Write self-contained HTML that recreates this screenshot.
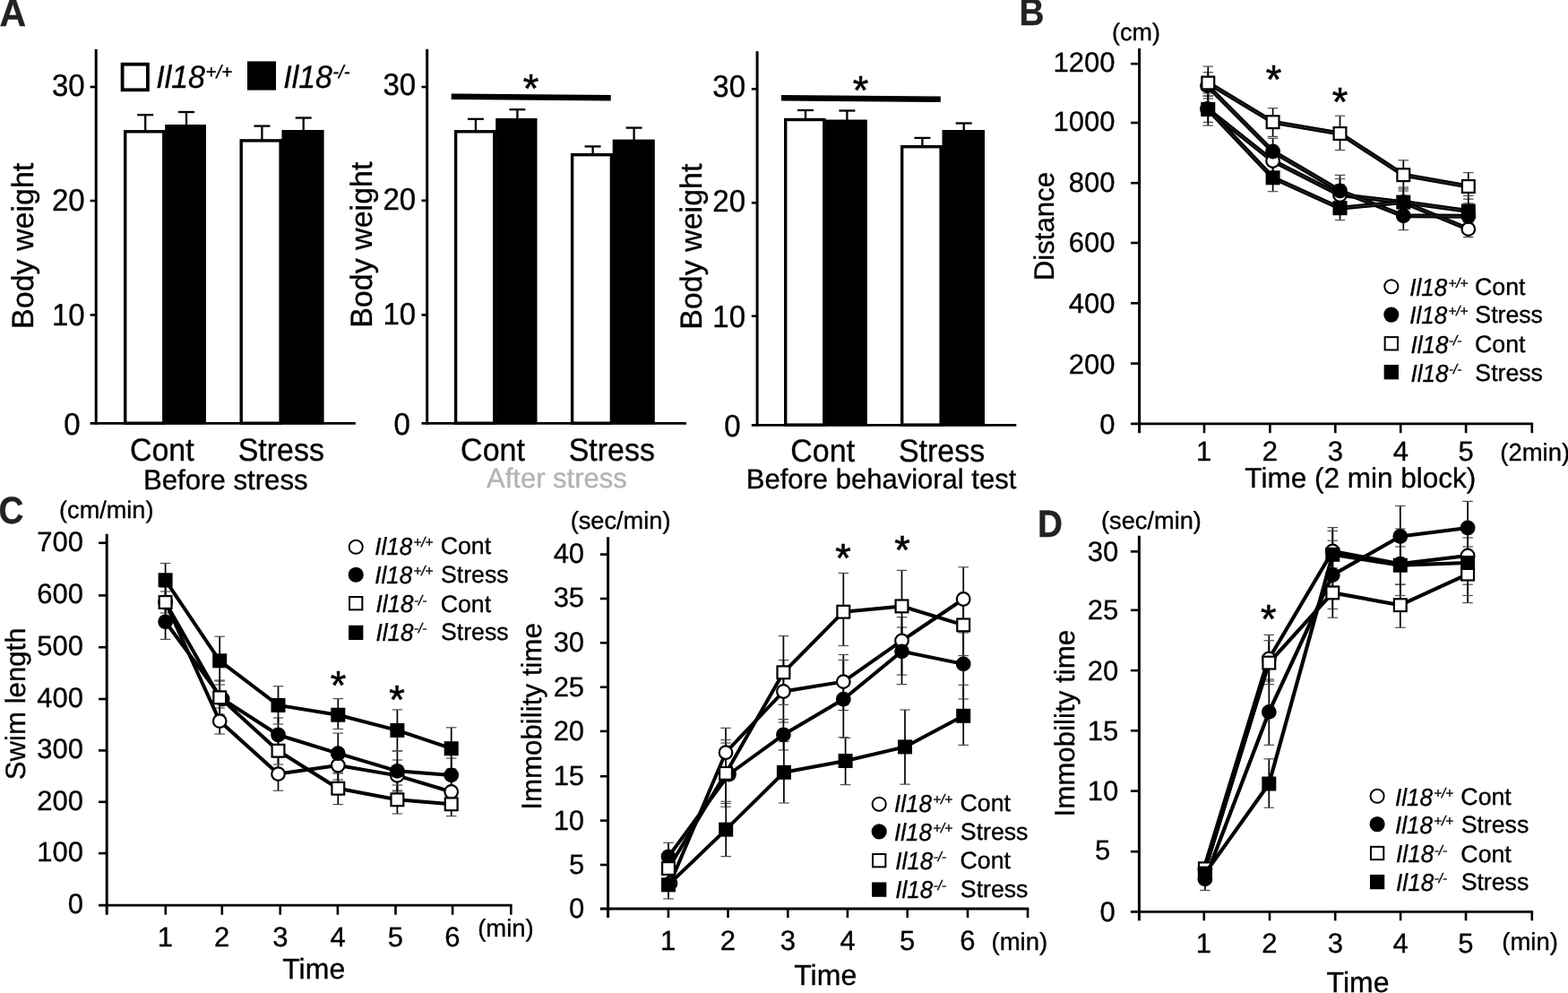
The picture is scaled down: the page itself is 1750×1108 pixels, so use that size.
<!DOCTYPE html>
<html lang="en">
<head>
<meta charset="utf-8">
<title>Il18 knockout mice: body weight and behavioral tests</title>
<style>
html,body{margin:0;padding:0;background:#fff;}
body{width:1750px;height:1108px;overflow:hidden;}
svg{display:block;font-family:'Liberation Sans', Arial, Helvetica, sans-serif;}
text{stroke:#000;stroke-width:0.35px;}

</style>
</head>
<body>
<svg width="1750" height="1108" viewBox="0 0 1750 1108" shape-rendering="geometricPrecision" text-rendering="geometricPrecision">
<rect width="1750" height="1108" fill="#fff"/>
<rect x="139.7" y="146.8" width="43.2" height="325.4" fill="#fff" stroke="#000" stroke-width="3.4"/>
<rect x="184.2" y="139" width="45.8" height="334.4" fill="#000"/>
<rect x="181.5" y="145.3" width="3" height="328.1" fill="#000"/>
<rect x="269.2" y="156.9" width="44" height="315.3" fill="#fff" stroke="#000" stroke-width="3.4"/>
<rect x="314.5" y="145" width="47.1" height="328.4" fill="#000"/>
<rect x="311.8" y="155.4" width="3" height="318" fill="#000"/>
<line x1="162.2" y1="128.2" x2="162.2" y2="146.3" stroke="#000" stroke-width="2.3"/>
<line x1="153.2" y1="128.2" x2="171.2" y2="128.2" stroke="#000" stroke-width="2.3"/>
<line x1="208" y1="125" x2="208" y2="140" stroke="#000" stroke-width="2.3"/>
<line x1="199" y1="125" x2="217" y2="125" stroke="#000" stroke-width="2.3"/>
<line x1="292.4" y1="140.6" x2="292.4" y2="156.4" stroke="#000" stroke-width="2.3"/>
<line x1="283.4" y1="140.6" x2="301.4" y2="140.6" stroke="#000" stroke-width="2.3"/>
<line x1="338.7" y1="131.5" x2="338.7" y2="146" stroke="#000" stroke-width="2.3"/>
<line x1="329.7" y1="131.5" x2="347.7" y2="131.5" stroke="#000" stroke-width="2.3"/>
<line x1="107.2" y1="55" x2="107.2" y2="473.8" stroke="#000" stroke-width="3"/>
<line x1="100.6" y1="472.4" x2="396.8" y2="472.4" stroke="#000" stroke-width="2.8"/>
<line x1="100.6" y1="97" x2="107.2" y2="97" stroke="#000" stroke-width="2.6"/>
<text transform="translate(57.99,107.3) scale(0.9550,1)" font-size="34.55">30</text>
<line x1="100.6" y1="224" x2="107.2" y2="224" stroke="#000" stroke-width="2.6"/>
<text transform="translate(57.99,235) scale(0.9550,1)" font-size="34.55">20</text>
<line x1="100.6" y1="351.4" x2="107.2" y2="351.4" stroke="#000" stroke-width="2.6"/>
<text transform="translate(57.99,362.7) scale(0.9550,1)" font-size="34.55">10</text>
<text transform="translate(71.34,485.4) scale(0.9550,1)" font-size="34.55">0</text>
<text transform="translate(36.5,366.92) rotate(-90)" font-size="34">Body weight</text>
<text transform="translate(144.9,514.4) scale(0.9550,1)" font-size="35.6">Cont</text>
<text transform="translate(265.64,514.4) scale(0.9550,1)" font-size="35.6">Stress</text>
<text x="159.9" y="545.6" font-size="31.2">Before stress</text>
<rect x="136.6" y="71.7" width="28.3" height="28.6" fill="#fff" stroke="#000" stroke-width="3.8"/>
<rect x="276" y="68.4" width="32" height="32.2" fill="#000"/>
<text transform="translate(174.28,97.5) scale(0.9550,1)" font-size="35.5" font-style="italic">Il18</text>
<text x="229.57" y="86.5" font-size="20.5" font-style="italic">+/+</text>
<text transform="translate(316.28,97.5) scale(0.9550,1)" font-size="35.5" font-style="italic">Il18</text>
<text x="371.28" y="86.5" font-size="20.5" font-style="italic">-/-</text>
<rect x="508.6" y="146.8" width="43.3" height="325.4" fill="#fff" stroke="#000" stroke-width="3.4"/>
<rect x="553.2" y="132" width="46.3" height="341.4" fill="#000"/>
<rect x="550.5" y="145.3" width="3" height="328.1" fill="#000"/>
<rect x="638.6" y="172.7" width="43.8" height="299.5" fill="#fff" stroke="#000" stroke-width="3.4"/>
<rect x="683.7" y="155.6" width="47.1" height="317.8" fill="#000"/>
<rect x="681" y="171.2" width="3" height="302.2" fill="#000"/>
<line x1="530.9" y1="132.8" x2="530.9" y2="146.3" stroke="#000" stroke-width="2.3"/>
<line x1="521.9" y1="132.8" x2="539.9" y2="132.8" stroke="#000" stroke-width="2.3"/>
<line x1="577.4" y1="122.2" x2="577.4" y2="133" stroke="#000" stroke-width="2.3"/>
<line x1="568.4" y1="122.2" x2="586.4" y2="122.2" stroke="#000" stroke-width="2.3"/>
<line x1="661.6" y1="163.4" x2="661.6" y2="172.2" stroke="#000" stroke-width="2.3"/>
<line x1="652.6" y1="163.4" x2="670.6" y2="163.4" stroke="#000" stroke-width="2.3"/>
<line x1="707.6" y1="142.6" x2="707.6" y2="156.6" stroke="#000" stroke-width="2.3"/>
<line x1="698.6" y1="142.6" x2="716.6" y2="142.6" stroke="#000" stroke-width="2.3"/>
<line x1="476.7" y1="54.8" x2="476.7" y2="473.8" stroke="#000" stroke-width="3"/>
<line x1="470.5" y1="472.4" x2="766" y2="472.4" stroke="#000" stroke-width="2.8"/>
<line x1="470.5" y1="97" x2="476.7" y2="97" stroke="#000" stroke-width="2.6"/>
<text transform="translate(427.49,106.1) scale(0.9550,1)" font-size="34.55">30</text>
<line x1="470.5" y1="223.8" x2="476.7" y2="223.8" stroke="#000" stroke-width="2.6"/>
<text transform="translate(427.49,234.1) scale(0.9550,1)" font-size="34.55">20</text>
<line x1="470.5" y1="351.4" x2="476.7" y2="351.4" stroke="#000" stroke-width="2.6"/>
<text transform="translate(427.49,362.2) scale(0.9550,1)" font-size="34.55">10</text>
<text transform="translate(439.54,485.4) scale(0.9550,1)" font-size="34.55">0</text>
<line x1="503.7" y1="107.7" x2="681.7" y2="109.3" stroke="#000" stroke-width="6.5"/>
<text x="583.73" y="114.2" font-size="45" style="stroke-width:0.6px">*</text>
<text transform="translate(414.6,365.82) rotate(-90)" font-size="34">Body weight</text>
<text transform="translate(514.1,514.4) scale(0.9550,1)" font-size="35.6">Cont</text>
<text transform="translate(634.64,514.4) scale(0.9550,1)" font-size="35.6">Stress</text>
<text x="543" y="544" font-size="31" style="fill:#b3b3b3;stroke:#b3b3b3">After stress</text>
<rect x="876.7" y="133.5" width="43.2" height="340.6" fill="#fff" stroke="#000" stroke-width="3.4"/>
<rect x="921.2" y="133.5" width="46.6" height="341.8" fill="#000"/>
<rect x="918.5" y="133.5" width="3" height="341.8" fill="#000"/>
<rect x="1006.7" y="163.7" width="43.5" height="310.4" fill="#fff" stroke="#000" stroke-width="3.4"/>
<rect x="1051.5" y="145" width="47.5" height="330.3" fill="#000"/>
<rect x="1048.8" y="162.2" width="3" height="313.1" fill="#000"/>
<line x1="899" y1="123" x2="899" y2="133" stroke="#000" stroke-width="2.3"/>
<line x1="890" y1="123" x2="908" y2="123" stroke="#000" stroke-width="2.3"/>
<line x1="945.4" y1="123.5" x2="945.4" y2="134.5" stroke="#000" stroke-width="2.3"/>
<line x1="936.4" y1="123.5" x2="954.4" y2="123.5" stroke="#000" stroke-width="2.3"/>
<line x1="1029.4" y1="153.9" x2="1029.4" y2="163.2" stroke="#000" stroke-width="2.3"/>
<line x1="1020.4" y1="153.9" x2="1038.4" y2="153.9" stroke="#000" stroke-width="2.3"/>
<line x1="1075.7" y1="137.5" x2="1075.7" y2="146" stroke="#000" stroke-width="2.3"/>
<line x1="1066.7" y1="137.5" x2="1084.7" y2="137.5" stroke="#000" stroke-width="2.3"/>
<line x1="845.1" y1="57.3" x2="845.1" y2="475.7" stroke="#000" stroke-width="3"/>
<line x1="838.8" y1="474.3" x2="1134.3" y2="474.3" stroke="#000" stroke-width="2.8"/>
<line x1="838.8" y1="99.3" x2="845.1" y2="99.3" stroke="#000" stroke-width="2.6"/>
<text transform="translate(795.29,107.5) scale(0.9550,1)" font-size="34.55">30</text>
<line x1="838.8" y1="226.3" x2="845.1" y2="226.3" stroke="#000" stroke-width="2.6"/>
<text transform="translate(795.29,236.1) scale(0.9550,1)" font-size="34.55">20</text>
<line x1="838.8" y1="352.7" x2="845.1" y2="352.7" stroke="#000" stroke-width="2.6"/>
<text transform="translate(795.29,365.3) scale(0.9550,1)" font-size="34.55">10</text>
<text transform="translate(808.34,487.3) scale(0.9550,1)" font-size="34.55">0</text>
<line x1="872" y1="109.2" x2="1049.8" y2="110.8" stroke="#000" stroke-width="6.5"/>
<text x="951.73" y="115.9" font-size="45" style="stroke-width:0.6px">*</text>
<text transform="translate(782.9,367.82) rotate(-90)" font-size="34">Body weight</text>
<text transform="translate(882.3,514.9) scale(0.9550,1)" font-size="35.6">Cont</text>
<text transform="translate(1002.94,514.9) scale(0.9550,1)" font-size="35.6">Stress</text>
<text x="832.72" y="545" font-size="31">Before behavioral test</text>
<text transform="translate(-0.52,29) scale(0.9650,1)" font-size="42.5" font-weight="bold" style="fill:#222;stroke:#222">A</text>
<text transform="translate(1137.48,28.4) scale(0.9100,1)" font-size="42.5" font-weight="bold" style="fill:#222;stroke:#222">B</text>
<text transform="translate(-1.55,583.5) scale(0.9100,1)" font-size="42.5" font-weight="bold" style="fill:#222;stroke:#222">C</text>
<text transform="translate(1157.98,598.5) scale(0.9100,1)" font-size="42.5" font-weight="bold" style="fill:#222;stroke:#222">D</text>
<line x1="1271.6" y1="54" x2="1271.6" y2="483.2" stroke="#000" stroke-width="3"/>
<line x1="1262" y1="472.8" x2="1711.1" y2="472.8" stroke="#000" stroke-width="2.8"/>
<line x1="1262" y1="71.2" x2="1271.6" y2="71.2" stroke="#000" stroke-width="2.6"/>
<text x="1175.46" y="79.7" font-size="31">1200</text>
<line x1="1262" y1="137" x2="1271.6" y2="137" stroke="#000" stroke-width="2.6"/>
<text x="1175.46" y="146.3" font-size="31">1000</text>
<line x1="1262" y1="204.2" x2="1271.6" y2="204.2" stroke="#000" stroke-width="2.6"/>
<text x="1192.7" y="213.9" font-size="31">800</text>
<line x1="1262" y1="271" x2="1271.6" y2="271" stroke="#000" stroke-width="2.6"/>
<text x="1192.7" y="281.1" font-size="31">600</text>
<line x1="1262" y1="338.3" x2="1271.6" y2="338.3" stroke="#000" stroke-width="2.6"/>
<text x="1192.7" y="348.8" font-size="31">400</text>
<line x1="1262" y1="405.6" x2="1271.6" y2="405.6" stroke="#000" stroke-width="2.6"/>
<text x="1192.7" y="416.5" font-size="31">200</text>
<text x="1227.18" y="483.9" font-size="31">0</text>
<line x1="1344" y1="472.8" x2="1344" y2="483.2" stroke="#000" stroke-width="2.6"/>
<line x1="1417.4" y1="472.8" x2="1417.4" y2="483.2" stroke="#000" stroke-width="2.6"/>
<line x1="1490.3" y1="472.8" x2="1490.3" y2="483.2" stroke="#000" stroke-width="2.6"/>
<line x1="1563.2" y1="472.8" x2="1563.2" y2="483.2" stroke="#000" stroke-width="2.6"/>
<line x1="1636.1" y1="472.8" x2="1636.1" y2="483.2" stroke="#000" stroke-width="2.6"/>
<line x1="1709.8" y1="472.8" x2="1709.8" y2="483.2" stroke="#000" stroke-width="2.6"/>
<text x="1335.01" y="513.8" font-size="31">1</text>
<text x="1408.72" y="513.8" font-size="31">2</text>
<text x="1481.77" y="513.8" font-size="31">3</text>
<text x="1554.67" y="513.8" font-size="31">4</text>
<text x="1627.42" y="513.8" font-size="31">5</text>
<text x="1241.09" y="45.3" font-size="26.9">(cm)</text>
<text x="1674.25" y="513.8" font-size="27.5">(2min)</text>
<text x="1389.37" y="544" font-size="31.5">Time (2 min block)</text>
<text transform="translate(1175.8,313.3) rotate(-90)" font-size="31.2">Distance</text>
<line x1="1348.3" y1="107.1" x2="1348.3" y2="136.4" stroke="#000" stroke-width="1.7"/>
<line x1="1342.55" y1="107.1" x2="1354.05" y2="107.1" stroke="#4d4d4d" stroke-width="1.2"/>
<line x1="1342.55" y1="136.4" x2="1354.05" y2="136.4" stroke="#4d4d4d" stroke-width="1.2"/>
<line x1="1420.6" y1="167" x2="1420.6" y2="192" stroke="#000" stroke-width="1.7"/>
<line x1="1414.85" y1="167" x2="1426.35" y2="167" stroke="#4d4d4d" stroke-width="1.2"/>
<line x1="1414.85" y1="192" x2="1426.35" y2="192" stroke="#4d4d4d" stroke-width="1.2"/>
<line x1="1495.5" y1="206" x2="1495.5" y2="234" stroke="#000" stroke-width="1.7"/>
<line x1="1489.75" y1="206" x2="1501.25" y2="206" stroke="#4d4d4d" stroke-width="1.2"/>
<line x1="1489.75" y1="234" x2="1501.25" y2="234" stroke="#4d4d4d" stroke-width="1.2"/>
<line x1="1566.3" y1="213" x2="1566.3" y2="239" stroke="#000" stroke-width="1.7"/>
<line x1="1560.55" y1="213" x2="1572.05" y2="213" stroke="#4d4d4d" stroke-width="1.2"/>
<line x1="1560.55" y1="239" x2="1572.05" y2="239" stroke="#4d4d4d" stroke-width="1.2"/>
<line x1="1638.8" y1="245" x2="1638.8" y2="264.6" stroke="#000" stroke-width="1.7"/>
<line x1="1633.05" y1="245" x2="1644.55" y2="245" stroke="#4d4d4d" stroke-width="1.2"/>
<line x1="1633.05" y1="264.6" x2="1644.55" y2="264.6" stroke="#4d4d4d" stroke-width="1.2"/>
<line x1="1348.3" y1="80.7" x2="1348.3" y2="110" stroke="#000" stroke-width="1.7"/>
<line x1="1342.55" y1="80.7" x2="1354.05" y2="80.7" stroke="#4d4d4d" stroke-width="1.2"/>
<line x1="1342.55" y1="110" x2="1354.05" y2="110" stroke="#4d4d4d" stroke-width="1.2"/>
<line x1="1420.6" y1="154.3" x2="1420.6" y2="184" stroke="#000" stroke-width="1.7"/>
<line x1="1414.85" y1="154.3" x2="1426.35" y2="154.3" stroke="#4d4d4d" stroke-width="1.2"/>
<line x1="1414.85" y1="184" x2="1426.35" y2="184" stroke="#4d4d4d" stroke-width="1.2"/>
<line x1="1495.5" y1="195.4" x2="1495.5" y2="230" stroke="#000" stroke-width="1.7"/>
<line x1="1489.75" y1="195.4" x2="1501.25" y2="195.4" stroke="#4d4d4d" stroke-width="1.2"/>
<line x1="1489.75" y1="230" x2="1501.25" y2="230" stroke="#4d4d4d" stroke-width="1.2"/>
<line x1="1566.3" y1="225" x2="1566.3" y2="256.7" stroke="#000" stroke-width="1.7"/>
<line x1="1560.55" y1="225" x2="1572.05" y2="225" stroke="#4d4d4d" stroke-width="1.2"/>
<line x1="1560.55" y1="256.7" x2="1572.05" y2="256.7" stroke="#4d4d4d" stroke-width="1.2"/>
<line x1="1638.8" y1="226.9" x2="1638.8" y2="251" stroke="#000" stroke-width="1.7"/>
<line x1="1633.05" y1="226.9" x2="1644.55" y2="226.9" stroke="#4d4d4d" stroke-width="1.2"/>
<line x1="1633.05" y1="251" x2="1644.55" y2="251" stroke="#4d4d4d" stroke-width="1.2"/>
<line x1="1348.3" y1="74.1" x2="1348.3" y2="107.1" stroke="#000" stroke-width="1.7"/>
<line x1="1342.55" y1="74.1" x2="1354.05" y2="74.1" stroke="#4d4d4d" stroke-width="1.2"/>
<line x1="1342.55" y1="107.1" x2="1354.05" y2="107.1" stroke="#4d4d4d" stroke-width="1.2"/>
<line x1="1420.6" y1="120.7" x2="1420.6" y2="152.4" stroke="#000" stroke-width="1.7"/>
<line x1="1414.85" y1="120.7" x2="1426.35" y2="120.7" stroke="#4d4d4d" stroke-width="1.2"/>
<line x1="1414.85" y1="152.4" x2="1426.35" y2="152.4" stroke="#4d4d4d" stroke-width="1.2"/>
<line x1="1495.5" y1="129.2" x2="1495.5" y2="167.5" stroke="#000" stroke-width="1.7"/>
<line x1="1489.75" y1="129.2" x2="1501.25" y2="129.2" stroke="#4d4d4d" stroke-width="1.2"/>
<line x1="1489.75" y1="167.5" x2="1501.25" y2="167.5" stroke="#4d4d4d" stroke-width="1.2"/>
<line x1="1566.3" y1="178.8" x2="1566.3" y2="210.9" stroke="#000" stroke-width="1.7"/>
<line x1="1560.55" y1="178.8" x2="1572.05" y2="178.8" stroke="#4d4d4d" stroke-width="1.2"/>
<line x1="1560.55" y1="210.9" x2="1572.05" y2="210.9" stroke="#4d4d4d" stroke-width="1.2"/>
<line x1="1638.8" y1="192.6" x2="1638.8" y2="222.2" stroke="#000" stroke-width="1.7"/>
<line x1="1633.05" y1="192.6" x2="1644.55" y2="192.6" stroke="#4d4d4d" stroke-width="1.2"/>
<line x1="1633.05" y1="222.2" x2="1644.55" y2="222.2" stroke="#4d4d4d" stroke-width="1.2"/>
<line x1="1348.3" y1="104" x2="1348.3" y2="140.1" stroke="#000" stroke-width="1.7"/>
<line x1="1342.55" y1="104" x2="1354.05" y2="104" stroke="#4d4d4d" stroke-width="1.2"/>
<line x1="1342.55" y1="140.1" x2="1354.05" y2="140.1" stroke="#4d4d4d" stroke-width="1.2"/>
<line x1="1420.6" y1="184" x2="1420.6" y2="213.7" stroke="#000" stroke-width="1.7"/>
<line x1="1414.85" y1="184" x2="1426.35" y2="184" stroke="#4d4d4d" stroke-width="1.2"/>
<line x1="1414.85" y1="213.7" x2="1426.35" y2="213.7" stroke="#4d4d4d" stroke-width="1.2"/>
<line x1="1495.5" y1="199.5" x2="1495.5" y2="245.7" stroke="#000" stroke-width="1.7"/>
<line x1="1489.75" y1="199.5" x2="1501.25" y2="199.5" stroke="#4d4d4d" stroke-width="1.2"/>
<line x1="1489.75" y1="245.7" x2="1501.25" y2="245.7" stroke="#4d4d4d" stroke-width="1.2"/>
<line x1="1566.3" y1="209" x2="1566.3" y2="239" stroke="#000" stroke-width="1.7"/>
<line x1="1560.55" y1="209" x2="1572.05" y2="209" stroke="#4d4d4d" stroke-width="1.2"/>
<line x1="1560.55" y1="239" x2="1572.05" y2="239" stroke="#4d4d4d" stroke-width="1.2"/>
<line x1="1638.8" y1="218.4" x2="1638.8" y2="249" stroke="#000" stroke-width="1.7"/>
<line x1="1633.05" y1="218.4" x2="1644.55" y2="218.4" stroke="#4d4d4d" stroke-width="1.2"/>
<line x1="1633.05" y1="249" x2="1644.55" y2="249" stroke="#4d4d4d" stroke-width="1.2"/>
<polyline points="1347.4,121.5 1420.6,179.5 1495.5,217.5 1566.3,225.7 1638.8,255.6" fill="none" stroke="#000" stroke-width="5" stroke-linejoin="round"/>
<polyline points="1347.4,121.5 1420.6,179.5 1495.5,217.5 1566.3,225.7 1638.8,255.6" fill="none" stroke="#4a4a4a" stroke-width="0.7" stroke-linejoin="round"/>
<circle cx="1347.4" cy="121.5" r="7.3" fill="#fff" stroke="#000" stroke-width="2.2"/>
<circle cx="1420.6" cy="179.5" r="7.3" fill="#fff" stroke="#000" stroke-width="2.2"/>
<circle cx="1495.5" cy="217.5" r="7.3" fill="#fff" stroke="#000" stroke-width="2.2"/>
<circle cx="1566.3" cy="225.7" r="7.3" fill="#fff" stroke="#000" stroke-width="2.2"/>
<circle cx="1638.8" cy="255.6" r="7.3" fill="#fff" stroke="#000" stroke-width="2.2"/>
<polyline points="1347.4,95.6 1420.6,169 1495.5,213 1566.3,240.8 1638.8,241.3" fill="none" stroke="#000" stroke-width="5" stroke-linejoin="round"/>
<polyline points="1347.4,95.6 1420.6,169 1495.5,213 1566.3,240.8 1638.8,241.3" fill="none" stroke="#4a4a4a" stroke-width="0.7" stroke-linejoin="round"/>
<circle cx="1347.4" cy="95.6" r="8.4" fill="#000"/>
<circle cx="1420.6" cy="169" r="8.4" fill="#000"/>
<circle cx="1495.5" cy="213" r="8.4" fill="#000"/>
<circle cx="1566.3" cy="240.8" r="8.4" fill="#000"/>
<circle cx="1638.8" cy="241.3" r="8.4" fill="#000"/>
<polyline points="1348.3,92.5 1420.6,136.2 1495.5,149 1566.3,195.2 1638.8,208" fill="none" stroke="#000" stroke-width="5" stroke-linejoin="round"/>
<polyline points="1348.3,92.5 1420.6,136.2 1495.5,149 1566.3,195.2 1638.8,208" fill="none" stroke="#4a4a4a" stroke-width="0.7" stroke-linejoin="round"/>
<rect x="1341.4" y="85.6" width="13.8" height="13.8" fill="#fff" stroke="#000" stroke-width="2.2"/>
<rect x="1413.7" y="129.3" width="13.8" height="13.8" fill="#fff" stroke="#000" stroke-width="2.2"/>
<rect x="1488.6" y="142.1" width="13.8" height="13.8" fill="#fff" stroke="#000" stroke-width="2.2"/>
<rect x="1559.4" y="188.3" width="13.8" height="13.8" fill="#fff" stroke="#000" stroke-width="2.2"/>
<rect x="1631.9" y="201.1" width="13.8" height="13.8" fill="#fff" stroke="#000" stroke-width="2.2"/>
<polyline points="1348.3,122 1420.6,198.3 1495.5,232.2 1566.3,225.6 1638.8,235.5" fill="none" stroke="#000" stroke-width="5" stroke-linejoin="round"/>
<polyline points="1348.3,122 1420.6,198.3 1495.5,232.2 1566.3,225.6 1638.8,235.5" fill="none" stroke="#4a4a4a" stroke-width="0.7" stroke-linejoin="round"/>
<rect x="1340.3" y="114" width="16" height="16" fill="#000"/>
<rect x="1412.6" y="190.3" width="16" height="16" fill="#000"/>
<rect x="1487.5" y="224.2" width="16" height="16" fill="#000"/>
<rect x="1558.3" y="217.6" width="16" height="16" fill="#000"/>
<rect x="1630.8" y="227.5" width="16" height="16" fill="#000"/>
<text x="1412.72" y="104.1" font-size="45" style="stroke-width:0.6px">*</text>
<text x="1486.72" y="128.6" font-size="45" style="stroke-width:0.6px">*</text>
<circle cx="1552.8" cy="319.7" r="7.55" fill="#fff" stroke="#000" stroke-width="2"/>
<text transform="translate(1573.22,329.8) scale(0.9550,1)" font-size="27.3" font-style="italic">Il18</text>
<text x="1616.44" y="321" font-size="15.2" font-style="italic">+/+</text>
<text x="1646.07" y="329" font-size="26.7">Cont</text>
<circle cx="1552.8" cy="351.1" r="8.55" fill="#000"/>
<text transform="translate(1573.22,361.2) scale(0.9550,1)" font-size="27.3" font-style="italic">Il18</text>
<text x="1616.44" y="352.4" font-size="15.2" font-style="italic">+/+</text>
<text x="1646.33" y="360.4" font-size="26.7">Stress</text>
<rect x="1545.65" y="376.15" width="14.3" height="14.3" fill="#fff" stroke="#000" stroke-width="2"/>
<text transform="translate(1574.42,393.8) scale(0.9550,1)" font-size="27.3" font-style="italic">Il18</text>
<text x="1616.99" y="385" font-size="15.2" font-style="italic">-/-</text>
<text x="1646.07" y="393" font-size="26.7">Cont</text>
<rect x="1544.65" y="407.05" width="16.3" height="16.3" fill="#000"/>
<text transform="translate(1574.42,425.8) scale(0.9550,1)" font-size="27.3" font-style="italic">Il18</text>
<text x="1616.99" y="417" font-size="15.2" font-style="italic">-/-</text>
<text x="1646.33" y="425" font-size="26.7">Stress</text>
<line x1="119.2" y1="595.8" x2="119.2" y2="1020.7" stroke="#000" stroke-width="3"/>
<line x1="110" y1="1010.2" x2="571.6" y2="1010.2" stroke="#000" stroke-width="2.8"/>
<line x1="110" y1="605.8" x2="119.2" y2="605.8" stroke="#000" stroke-width="2.6"/>
<text x="41.2" y="614.8" font-size="31">700</text>
<line x1="110" y1="664.4" x2="119.2" y2="664.4" stroke="#000" stroke-width="2.6"/>
<text x="41.2" y="673.4" font-size="31">600</text>
<line x1="110" y1="722.2" x2="119.2" y2="722.2" stroke="#000" stroke-width="2.6"/>
<text x="41.2" y="731.2" font-size="31">500</text>
<line x1="110" y1="780" x2="119.2" y2="780" stroke="#000" stroke-width="2.6"/>
<text x="41.2" y="789" font-size="31">400</text>
<line x1="110" y1="837.4" x2="119.2" y2="837.4" stroke="#000" stroke-width="2.6"/>
<text x="41.2" y="846.4" font-size="31">300</text>
<line x1="110" y1="894.8" x2="119.2" y2="894.8" stroke="#000" stroke-width="2.6"/>
<text x="41.2" y="903.8" font-size="31">200</text>
<line x1="110" y1="952.1" x2="119.2" y2="952.1" stroke="#000" stroke-width="2.6"/>
<text x="41.2" y="961.1" font-size="31">100</text>
<text x="75.68" y="1019.2" font-size="31">0</text>
<line x1="184.8" y1="1010.2" x2="184.8" y2="1020.7" stroke="#000" stroke-width="2.6"/>
<line x1="247.8" y1="1010.2" x2="247.8" y2="1020.7" stroke="#000" stroke-width="2.6"/>
<line x1="312.7" y1="1010.2" x2="312.7" y2="1020.7" stroke="#000" stroke-width="2.6"/>
<line x1="376.9" y1="1010.2" x2="376.9" y2="1020.7" stroke="#000" stroke-width="2.6"/>
<line x1="441.5" y1="1010.2" x2="441.5" y2="1020.7" stroke="#000" stroke-width="2.6"/>
<line x1="505.1" y1="1010.2" x2="505.1" y2="1020.7" stroke="#000" stroke-width="2.6"/>
<line x1="570.3" y1="1010.2" x2="570.3" y2="1020.7" stroke="#000" stroke-width="2.6"/>
<text x="175.81" y="1056" font-size="31">1</text>
<text x="239.12" y="1056" font-size="31">2</text>
<text x="304.18" y="1056" font-size="31">3</text>
<text x="368.38" y="1056" font-size="31">4</text>
<text x="432.82" y="1056" font-size="31">5</text>
<text x="496.27" y="1056" font-size="31">6</text>
<text x="66.07" y="577.7" font-size="27.1">(cm/min)</text>
<text x="533.15" y="1045.2" font-size="27.5">(min)</text>
<text x="315.26" y="1091.6" font-size="32">Time</text>
<text transform="translate(27.9,870.25) rotate(-90)" font-size="31.2">Swim length</text>
<line x1="184.6" y1="655" x2="184.6" y2="689" stroke="#000" stroke-width="1.7"/>
<line x1="178.85" y1="655" x2="190.35" y2="655" stroke="#4d4d4d" stroke-width="1.2"/>
<line x1="178.85" y1="689" x2="190.35" y2="689" stroke="#4d4d4d" stroke-width="1.2"/>
<line x1="245.2" y1="790" x2="245.2" y2="819" stroke="#000" stroke-width="1.7"/>
<line x1="239.45" y1="790" x2="250.95" y2="790" stroke="#4d4d4d" stroke-width="1.2"/>
<line x1="239.45" y1="819" x2="250.95" y2="819" stroke="#4d4d4d" stroke-width="1.2"/>
<line x1="310.5" y1="845" x2="310.5" y2="882.2" stroke="#000" stroke-width="1.7"/>
<line x1="304.75" y1="845" x2="316.25" y2="845" stroke="#4d4d4d" stroke-width="1.2"/>
<line x1="304.75" y1="882.2" x2="316.25" y2="882.2" stroke="#4d4d4d" stroke-width="1.2"/>
<line x1="377.3" y1="838" x2="377.3" y2="870" stroke="#000" stroke-width="1.7"/>
<line x1="371.55" y1="838" x2="383.05" y2="838" stroke="#4d4d4d" stroke-width="1.2"/>
<line x1="371.55" y1="870" x2="383.05" y2="870" stroke="#4d4d4d" stroke-width="1.2"/>
<line x1="443.4" y1="848" x2="443.4" y2="883" stroke="#000" stroke-width="1.7"/>
<line x1="437.65" y1="848" x2="449.15" y2="848" stroke="#4d4d4d" stroke-width="1.2"/>
<line x1="437.65" y1="883" x2="449.15" y2="883" stroke="#4d4d4d" stroke-width="1.2"/>
<line x1="503.7" y1="868" x2="503.7" y2="899" stroke="#000" stroke-width="1.7"/>
<line x1="497.95" y1="868" x2="509.45" y2="868" stroke="#4d4d4d" stroke-width="1.2"/>
<line x1="497.95" y1="899" x2="509.45" y2="899" stroke="#4d4d4d" stroke-width="1.2"/>
<line x1="184.6" y1="674" x2="184.6" y2="713.4" stroke="#000" stroke-width="1.7"/>
<line x1="178.85" y1="674" x2="190.35" y2="674" stroke="#4d4d4d" stroke-width="1.2"/>
<line x1="178.85" y1="713.4" x2="190.35" y2="713.4" stroke="#4d4d4d" stroke-width="1.2"/>
<line x1="245.2" y1="760" x2="245.2" y2="800" stroke="#000" stroke-width="1.7"/>
<line x1="239.45" y1="760" x2="250.95" y2="760" stroke="#4d4d4d" stroke-width="1.2"/>
<line x1="239.45" y1="800" x2="250.95" y2="800" stroke="#4d4d4d" stroke-width="1.2"/>
<line x1="310.5" y1="801" x2="310.5" y2="839" stroke="#000" stroke-width="1.7"/>
<line x1="304.75" y1="801" x2="316.25" y2="801" stroke="#4d4d4d" stroke-width="1.2"/>
<line x1="304.75" y1="839" x2="316.25" y2="839" stroke="#4d4d4d" stroke-width="1.2"/>
<line x1="377.3" y1="818.1" x2="377.3" y2="863" stroke="#000" stroke-width="1.7"/>
<line x1="371.55" y1="818.1" x2="383.05" y2="818.1" stroke="#4d4d4d" stroke-width="1.2"/>
<line x1="371.55" y1="863" x2="383.05" y2="863" stroke="#4d4d4d" stroke-width="1.2"/>
<line x1="443.4" y1="838" x2="443.4" y2="882" stroke="#000" stroke-width="1.7"/>
<line x1="437.65" y1="838" x2="449.15" y2="838" stroke="#4d4d4d" stroke-width="1.2"/>
<line x1="437.65" y1="882" x2="449.15" y2="882" stroke="#4d4d4d" stroke-width="1.2"/>
<line x1="503.7" y1="846" x2="503.7" y2="884" stroke="#000" stroke-width="1.7"/>
<line x1="497.95" y1="846" x2="509.45" y2="846" stroke="#4d4d4d" stroke-width="1.2"/>
<line x1="497.95" y1="884" x2="509.45" y2="884" stroke="#4d4d4d" stroke-width="1.2"/>
<line x1="184.6" y1="660" x2="184.6" y2="684" stroke="#000" stroke-width="1.7"/>
<line x1="178.85" y1="660" x2="190.35" y2="660" stroke="#4d4d4d" stroke-width="1.2"/>
<line x1="178.85" y1="684" x2="190.35" y2="684" stroke="#4d4d4d" stroke-width="1.2"/>
<line x1="245.2" y1="759" x2="245.2" y2="797" stroke="#000" stroke-width="1.7"/>
<line x1="239.45" y1="759" x2="250.95" y2="759" stroke="#4d4d4d" stroke-width="1.2"/>
<line x1="239.45" y1="797" x2="250.95" y2="797" stroke="#4d4d4d" stroke-width="1.2"/>
<line x1="310.5" y1="822" x2="310.5" y2="853" stroke="#000" stroke-width="1.7"/>
<line x1="304.75" y1="822" x2="316.25" y2="822" stroke="#4d4d4d" stroke-width="1.2"/>
<line x1="304.75" y1="853" x2="316.25" y2="853" stroke="#4d4d4d" stroke-width="1.2"/>
<line x1="377.3" y1="862" x2="377.3" y2="897.6" stroke="#000" stroke-width="1.7"/>
<line x1="371.55" y1="862" x2="383.05" y2="862" stroke="#4d4d4d" stroke-width="1.2"/>
<line x1="371.55" y1="897.6" x2="383.05" y2="897.6" stroke="#4d4d4d" stroke-width="1.2"/>
<line x1="443.4" y1="876" x2="443.4" y2="908" stroke="#000" stroke-width="1.7"/>
<line x1="437.65" y1="876" x2="449.15" y2="876" stroke="#4d4d4d" stroke-width="1.2"/>
<line x1="437.65" y1="908" x2="449.15" y2="908" stroke="#4d4d4d" stroke-width="1.2"/>
<line x1="503.7" y1="884" x2="503.7" y2="910.6" stroke="#000" stroke-width="1.7"/>
<line x1="497.95" y1="884" x2="509.45" y2="884" stroke="#4d4d4d" stroke-width="1.2"/>
<line x1="497.95" y1="910.6" x2="509.45" y2="910.6" stroke="#4d4d4d" stroke-width="1.2"/>
<line x1="184.6" y1="628.5" x2="184.6" y2="666" stroke="#000" stroke-width="1.7"/>
<line x1="178.85" y1="628.5" x2="190.35" y2="628.5" stroke="#4d4d4d" stroke-width="1.2"/>
<line x1="178.85" y1="666" x2="190.35" y2="666" stroke="#4d4d4d" stroke-width="1.2"/>
<line x1="245.2" y1="710.2" x2="245.2" y2="764" stroke="#000" stroke-width="1.7"/>
<line x1="239.45" y1="710.2" x2="250.95" y2="710.2" stroke="#4d4d4d" stroke-width="1.2"/>
<line x1="239.45" y1="764" x2="250.95" y2="764" stroke="#4d4d4d" stroke-width="1.2"/>
<line x1="310.5" y1="765.7" x2="310.5" y2="808" stroke="#000" stroke-width="1.7"/>
<line x1="304.75" y1="765.7" x2="316.25" y2="765.7" stroke="#4d4d4d" stroke-width="1.2"/>
<line x1="304.75" y1="808" x2="316.25" y2="808" stroke="#4d4d4d" stroke-width="1.2"/>
<line x1="377.3" y1="779.6" x2="377.3" y2="813.5" stroke="#000" stroke-width="1.7"/>
<line x1="371.55" y1="779.6" x2="383.05" y2="779.6" stroke="#4d4d4d" stroke-width="1.2"/>
<line x1="371.55" y1="813.5" x2="383.05" y2="813.5" stroke="#4d4d4d" stroke-width="1.2"/>
<line x1="443.4" y1="791.9" x2="443.4" y2="838" stroke="#000" stroke-width="1.7"/>
<line x1="437.65" y1="791.9" x2="449.15" y2="791.9" stroke="#4d4d4d" stroke-width="1.2"/>
<line x1="437.65" y1="838" x2="449.15" y2="838" stroke="#4d4d4d" stroke-width="1.2"/>
<line x1="503.7" y1="811.8" x2="503.7" y2="858" stroke="#000" stroke-width="1.7"/>
<line x1="497.95" y1="811.8" x2="509.45" y2="811.8" stroke="#4d4d4d" stroke-width="1.2"/>
<line x1="497.95" y1="858" x2="509.45" y2="858" stroke="#4d4d4d" stroke-width="1.2"/>
<polyline points="184.6,672 245.2,804.6 310.5,863.6 377.3,854 443.4,865.4 503.7,883.5" fill="none" stroke="#000" stroke-width="4" stroke-linejoin="round"/>
<circle cx="184.6" cy="672" r="7.3" fill="#fff" stroke="#000" stroke-width="2.2"/>
<circle cx="245.2" cy="804.6" r="7.3" fill="#fff" stroke="#000" stroke-width="2.2"/>
<circle cx="310.5" cy="863.6" r="7.3" fill="#fff" stroke="#000" stroke-width="2.2"/>
<circle cx="377.3" cy="854" r="7.3" fill="#fff" stroke="#000" stroke-width="2.2"/>
<circle cx="443.4" cy="865.4" r="7.3" fill="#fff" stroke="#000" stroke-width="2.2"/>
<circle cx="503.7" cy="883.5" r="7.3" fill="#fff" stroke="#000" stroke-width="2.2"/>
<polyline points="184.6,693.8 248.2,780 310.5,820 377.3,840.7 443.4,860.3 503.7,864.9" fill="none" stroke="#000" stroke-width="4" stroke-linejoin="round"/>
<circle cx="184.6" cy="693.8" r="8.4" fill="#000"/>
<circle cx="248.2" cy="780" r="8.4" fill="#000"/>
<circle cx="310.5" cy="820" r="8.4" fill="#000"/>
<circle cx="377.3" cy="840.7" r="8.4" fill="#000"/>
<circle cx="443.4" cy="860.3" r="8.4" fill="#000"/>
<circle cx="503.7" cy="864.9" r="8.4" fill="#000"/>
<polyline points="184.6,672 245.2,778.3 310.5,837.7 377.3,879.7 443.4,892.3 503.7,897.3" fill="none" stroke="#000" stroke-width="4" stroke-linejoin="round"/>
<rect x="177.7" y="665.1" width="13.8" height="13.8" fill="#fff" stroke="#000" stroke-width="2.2"/>
<rect x="238.3" y="771.4" width="13.8" height="13.8" fill="#fff" stroke="#000" stroke-width="2.2"/>
<rect x="303.6" y="830.8" width="13.8" height="13.8" fill="#fff" stroke="#000" stroke-width="2.2"/>
<rect x="370.4" y="872.8" width="13.8" height="13.8" fill="#fff" stroke="#000" stroke-width="2.2"/>
<rect x="436.5" y="885.4" width="13.8" height="13.8" fill="#fff" stroke="#000" stroke-width="2.2"/>
<rect x="496.8" y="890.4" width="13.8" height="13.8" fill="#fff" stroke="#000" stroke-width="2.2"/>
<polyline points="184.6,647.3 245.2,737.3 310.5,786.9 377.3,797.7 443.4,814.9 503.7,835.2" fill="none" stroke="#000" stroke-width="4" stroke-linejoin="round"/>
<rect x="176.6" y="639.3" width="16" height="16" fill="#000"/>
<rect x="237.2" y="729.3" width="16" height="16" fill="#000"/>
<rect x="302.5" y="778.9" width="16" height="16" fill="#000"/>
<rect x="369.3" y="789.7" width="16" height="16" fill="#000"/>
<rect x="435.4" y="806.9" width="16" height="16" fill="#000"/>
<rect x="495.7" y="827.2" width="16" height="16" fill="#000"/>
<text x="368.73" y="779.8" font-size="45" style="stroke-width:0.6px">*</text>
<text x="434.23" y="795.8" font-size="45" style="stroke-width:0.6px">*</text>
<circle cx="397.2" cy="610.3" r="7.55" fill="#fff" stroke="#000" stroke-width="2"/>
<text transform="translate(418.22,619.2) scale(0.9550,1)" font-size="27.3" font-style="italic">Il18</text>
<text x="461.44" y="610.4" font-size="15.2" font-style="italic">+/+</text>
<text x="491.76" y="618.4" font-size="26.7">Cont</text>
<circle cx="397.2" cy="641.2" r="8.55" fill="#000"/>
<text transform="translate(418.22,650.8) scale(0.9550,1)" font-size="27.3" font-style="italic">Il18</text>
<text x="461.44" y="642" font-size="15.2" font-style="italic">+/+</text>
<text x="492.03" y="650" font-size="26.7">Stress</text>
<rect x="390.05" y="666.05" width="14.3" height="14.3" fill="#fff" stroke="#000" stroke-width="2"/>
<text transform="translate(419.42,683.3) scale(0.9550,1)" font-size="27.3" font-style="italic">Il18</text>
<text x="461.99" y="674.5" font-size="15.2" font-style="italic">-/-</text>
<text x="491.76" y="682.5" font-size="26.7">Cont</text>
<rect x="389.05" y="697.75" width="16.3" height="16.3" fill="#000"/>
<text transform="translate(419.42,715) scale(0.9550,1)" font-size="27.3" font-style="italic">Il18</text>
<text x="461.99" y="706.2" font-size="15.2" font-style="italic">-/-</text>
<text x="492.03" y="714.2" font-size="26.7">Stress</text>
<line x1="678.6" y1="599.3" x2="678.6" y2="1024" stroke="#000" stroke-width="3"/>
<line x1="669.8" y1="1014" x2="1148.3" y2="1014" stroke="#000" stroke-width="2.8"/>
<line x1="669.8" y1="618.6" x2="678.6" y2="618.6" stroke="#000" stroke-width="2.6"/>
<text x="617.64" y="627.5" font-size="31">40</text>
<line x1="669.8" y1="668" x2="678.6" y2="668" stroke="#000" stroke-width="2.6"/>
<text x="617.64" y="676.7" font-size="31">35</text>
<line x1="669.8" y1="717.3" x2="678.6" y2="717.3" stroke="#000" stroke-width="2.6"/>
<text x="617.64" y="727.2" font-size="31">30</text>
<line x1="669.8" y1="766.7" x2="678.6" y2="766.7" stroke="#000" stroke-width="2.6"/>
<text x="617.64" y="776.6" font-size="31">25</text>
<line x1="669.8" y1="815.9" x2="678.6" y2="815.9" stroke="#000" stroke-width="2.6"/>
<text x="617.64" y="825.8" font-size="31">20</text>
<line x1="669.8" y1="866.2" x2="678.6" y2="866.2" stroke="#000" stroke-width="2.6"/>
<text x="617.64" y="876.1" font-size="31">15</text>
<line x1="669.8" y1="915.6" x2="678.6" y2="915.6" stroke="#000" stroke-width="2.6"/>
<text x="617.64" y="925.5" font-size="31">10</text>
<line x1="669.8" y1="965" x2="678.6" y2="965" stroke="#000" stroke-width="2.6"/>
<text x="634.88" y="974.9" font-size="31">5</text>
<text x="634.88" y="1023.9" font-size="31">0</text>
<line x1="745.9" y1="1014" x2="745.9" y2="1024" stroke="#000" stroke-width="2.6"/>
<line x1="812.5" y1="1014" x2="812.5" y2="1024" stroke="#000" stroke-width="2.6"/>
<line x1="879.3" y1="1014" x2="879.3" y2="1024" stroke="#000" stroke-width="2.6"/>
<line x1="945.9" y1="1014" x2="945.9" y2="1024" stroke="#000" stroke-width="2.6"/>
<line x1="1012.7" y1="1014" x2="1012.7" y2="1024" stroke="#000" stroke-width="2.6"/>
<line x1="1080" y1="1014" x2="1080" y2="1024" stroke="#000" stroke-width="2.6"/>
<line x1="1147" y1="1014" x2="1147" y2="1024" stroke="#000" stroke-width="2.6"/>
<text x="736.91" y="1059.9" font-size="31">1</text>
<text x="803.82" y="1059.9" font-size="31">2</text>
<text x="870.77" y="1059.9" font-size="31">3</text>
<text x="937.38" y="1059.9" font-size="31">4</text>
<text x="1004.02" y="1059.9" font-size="31">5</text>
<text x="1071.16" y="1059.9" font-size="31">6</text>
<text x="636.67" y="590" font-size="27.2">(sec/min)</text>
<text x="1106.55" y="1059.6" font-size="27.5">(min)</text>
<text x="886.26" y="1098.5" font-size="32">Time</text>
<text transform="translate(603.6,903.82) rotate(-90)" font-size="31.3">Immobility time</text>
<line x1="746" y1="950" x2="746" y2="985" stroke="#000" stroke-width="1.7"/>
<line x1="740.25" y1="950" x2="751.75" y2="950" stroke="#4d4d4d" stroke-width="1.2"/>
<line x1="740.25" y1="985" x2="751.75" y2="985" stroke="#4d4d4d" stroke-width="1.2"/>
<line x1="810" y1="812.3" x2="810" y2="867" stroke="#000" stroke-width="1.7"/>
<line x1="804.25" y1="812.3" x2="815.75" y2="812.3" stroke="#4d4d4d" stroke-width="1.2"/>
<line x1="804.25" y1="867" x2="815.75" y2="867" stroke="#4d4d4d" stroke-width="1.2"/>
<line x1="874.4" y1="736.6" x2="874.4" y2="806" stroke="#000" stroke-width="1.7"/>
<line x1="868.65" y1="736.6" x2="880.15" y2="736.6" stroke="#4d4d4d" stroke-width="1.2"/>
<line x1="868.65" y1="806" x2="880.15" y2="806" stroke="#4d4d4d" stroke-width="1.2"/>
<line x1="941.3" y1="730.4" x2="941.3" y2="792.5" stroke="#000" stroke-width="1.7"/>
<line x1="935.55" y1="730.4" x2="947.05" y2="730.4" stroke="#4d4d4d" stroke-width="1.2"/>
<line x1="935.55" y1="792.5" x2="947.05" y2="792.5" stroke="#4d4d4d" stroke-width="1.2"/>
<line x1="1006.5" y1="688.6" x2="1006.5" y2="753.1" stroke="#000" stroke-width="1.7"/>
<line x1="1000.75" y1="688.6" x2="1012.25" y2="688.6" stroke="#4d4d4d" stroke-width="1.2"/>
<line x1="1000.75" y1="753.1" x2="1012.25" y2="753.1" stroke="#4d4d4d" stroke-width="1.2"/>
<line x1="1075.2" y1="632.8" x2="1075.2" y2="704" stroke="#000" stroke-width="1.7"/>
<line x1="1069.45" y1="632.8" x2="1080.95" y2="632.8" stroke="#4d4d4d" stroke-width="1.2"/>
<line x1="1069.45" y1="704" x2="1080.95" y2="704" stroke="#4d4d4d" stroke-width="1.2"/>
<line x1="746" y1="940.3" x2="746" y2="972" stroke="#000" stroke-width="1.7"/>
<line x1="740.25" y1="940.3" x2="751.75" y2="940.3" stroke="#4d4d4d" stroke-width="1.2"/>
<line x1="740.25" y1="972" x2="751.75" y2="972" stroke="#4d4d4d" stroke-width="1.2"/>
<line x1="810" y1="825.6" x2="810" y2="900.2" stroke="#000" stroke-width="1.7"/>
<line x1="804.25" y1="825.6" x2="815.75" y2="825.6" stroke="#4d4d4d" stroke-width="1.2"/>
<line x1="804.25" y1="900.2" x2="815.75" y2="900.2" stroke="#4d4d4d" stroke-width="1.2"/>
<line x1="874.4" y1="802.6" x2="874.4" y2="837" stroke="#000" stroke-width="1.7"/>
<line x1="868.65" y1="802.6" x2="880.15" y2="802.6" stroke="#4d4d4d" stroke-width="1.2"/>
<line x1="868.65" y1="837" x2="880.15" y2="837" stroke="#4d4d4d" stroke-width="1.2"/>
<line x1="941.3" y1="736.5" x2="941.3" y2="822.7" stroke="#000" stroke-width="1.7"/>
<line x1="935.55" y1="736.5" x2="947.05" y2="736.5" stroke="#4d4d4d" stroke-width="1.2"/>
<line x1="935.55" y1="822.7" x2="947.05" y2="822.7" stroke="#4d4d4d" stroke-width="1.2"/>
<line x1="1006.5" y1="700" x2="1006.5" y2="763.6" stroke="#000" stroke-width="1.7"/>
<line x1="1000.75" y1="700" x2="1012.25" y2="700" stroke="#4d4d4d" stroke-width="1.2"/>
<line x1="1000.75" y1="763.6" x2="1012.25" y2="763.6" stroke="#4d4d4d" stroke-width="1.2"/>
<line x1="1075.2" y1="706" x2="1075.2" y2="780" stroke="#000" stroke-width="1.7"/>
<line x1="1069.45" y1="706" x2="1080.95" y2="706" stroke="#4d4d4d" stroke-width="1.2"/>
<line x1="1069.45" y1="780" x2="1080.95" y2="780" stroke="#4d4d4d" stroke-width="1.2"/>
<line x1="746" y1="952" x2="746" y2="986" stroke="#000" stroke-width="1.7"/>
<line x1="740.25" y1="952" x2="751.75" y2="952" stroke="#4d4d4d" stroke-width="1.2"/>
<line x1="740.25" y1="986" x2="751.75" y2="986" stroke="#4d4d4d" stroke-width="1.2"/>
<line x1="810" y1="829" x2="810" y2="896.5" stroke="#000" stroke-width="1.7"/>
<line x1="804.25" y1="829" x2="815.75" y2="829" stroke="#4d4d4d" stroke-width="1.2"/>
<line x1="804.25" y1="896.5" x2="815.75" y2="896.5" stroke="#4d4d4d" stroke-width="1.2"/>
<line x1="874.4" y1="709.6" x2="874.4" y2="786.3" stroke="#000" stroke-width="1.7"/>
<line x1="868.65" y1="709.6" x2="880.15" y2="709.6" stroke="#4d4d4d" stroke-width="1.2"/>
<line x1="868.65" y1="786.3" x2="880.15" y2="786.3" stroke="#4d4d4d" stroke-width="1.2"/>
<line x1="941.3" y1="639.5" x2="941.3" y2="720.5" stroke="#000" stroke-width="1.7"/>
<line x1="935.55" y1="639.5" x2="947.05" y2="639.5" stroke="#4d4d4d" stroke-width="1.2"/>
<line x1="935.55" y1="720.5" x2="947.05" y2="720.5" stroke="#4d4d4d" stroke-width="1.2"/>
<line x1="1006.5" y1="636.4" x2="1006.5" y2="716.4" stroke="#000" stroke-width="1.7"/>
<line x1="1000.75" y1="636.4" x2="1012.25" y2="636.4" stroke="#4d4d4d" stroke-width="1.2"/>
<line x1="1000.75" y1="716.4" x2="1012.25" y2="716.4" stroke="#4d4d4d" stroke-width="1.2"/>
<line x1="1075.2" y1="663" x2="1075.2" y2="731.6" stroke="#000" stroke-width="1.7"/>
<line x1="1069.45" y1="663" x2="1080.95" y2="663" stroke="#4d4d4d" stroke-width="1.2"/>
<line x1="1069.45" y1="731.6" x2="1080.95" y2="731.6" stroke="#4d4d4d" stroke-width="1.2"/>
<line x1="746" y1="972" x2="746" y2="1002.9" stroke="#000" stroke-width="1.7"/>
<line x1="740.25" y1="972" x2="751.75" y2="972" stroke="#4d4d4d" stroke-width="1.2"/>
<line x1="740.25" y1="1002.9" x2="751.75" y2="1002.9" stroke="#4d4d4d" stroke-width="1.2"/>
<line x1="810.2" y1="894.3" x2="810.2" y2="955.6" stroke="#000" stroke-width="1.7"/>
<line x1="804.45" y1="894.3" x2="815.95" y2="894.3" stroke="#4d4d4d" stroke-width="1.2"/>
<line x1="804.45" y1="955.6" x2="815.95" y2="955.6" stroke="#4d4d4d" stroke-width="1.2"/>
<line x1="874.9" y1="827.5" x2="874.9" y2="896" stroke="#000" stroke-width="1.7"/>
<line x1="869.15" y1="827.5" x2="880.65" y2="827.5" stroke="#4d4d4d" stroke-width="1.2"/>
<line x1="869.15" y1="896" x2="880.65" y2="896" stroke="#4d4d4d" stroke-width="1.2"/>
<line x1="943.6" y1="823.4" x2="943.6" y2="875.6" stroke="#000" stroke-width="1.7"/>
<line x1="937.85" y1="823.4" x2="949.35" y2="823.4" stroke="#4d4d4d" stroke-width="1.2"/>
<line x1="937.85" y1="875.6" x2="949.35" y2="875.6" stroke="#4d4d4d" stroke-width="1.2"/>
<line x1="1010" y1="792" x2="1010" y2="875.1" stroke="#000" stroke-width="1.7"/>
<line x1="1004.25" y1="792" x2="1015.75" y2="792" stroke="#4d4d4d" stroke-width="1.2"/>
<line x1="1004.25" y1="875.1" x2="1015.75" y2="875.1" stroke="#4d4d4d" stroke-width="1.2"/>
<line x1="1075.2" y1="764.3" x2="1075.2" y2="831.4" stroke="#000" stroke-width="1.7"/>
<line x1="1069.45" y1="764.3" x2="1080.95" y2="764.3" stroke="#4d4d4d" stroke-width="1.2"/>
<line x1="1069.45" y1="831.4" x2="1080.95" y2="831.4" stroke="#4d4d4d" stroke-width="1.2"/>
<polyline points="748,985.4 810,839.7 874.4,771.5 941.3,760.6 1006.5,714.9 1075.2,668.5" fill="none" stroke="#000" stroke-width="4" stroke-linejoin="round"/>
<circle cx="748" cy="985.4" r="7.3" fill="#fff" stroke="#000" stroke-width="2.2"/>
<circle cx="810" cy="839.7" r="7.3" fill="#fff" stroke="#000" stroke-width="2.2"/>
<circle cx="874.4" cy="771.5" r="7.3" fill="#fff" stroke="#000" stroke-width="2.2"/>
<circle cx="941.3" cy="760.6" r="7.3" fill="#fff" stroke="#000" stroke-width="2.2"/>
<circle cx="1006.5" cy="714.9" r="7.3" fill="#fff" stroke="#000" stroke-width="2.2"/>
<circle cx="1075.2" cy="668.5" r="7.3" fill="#fff" stroke="#000" stroke-width="2.2"/>
<polyline points="746,955.9 813.5,864 874.4,819.8 941.3,780.2 1006.5,726.8 1075.2,740.9" fill="none" stroke="#000" stroke-width="4" stroke-linejoin="round"/>
<circle cx="746" cy="955.9" r="8.4" fill="#000"/>
<circle cx="813.5" cy="864" r="8.4" fill="#000"/>
<circle cx="874.4" cy="819.8" r="8.4" fill="#000"/>
<circle cx="941.3" cy="780.2" r="8.4" fill="#000"/>
<circle cx="1006.5" cy="726.8" r="8.4" fill="#000"/>
<circle cx="1075.2" cy="740.9" r="8.4" fill="#000"/>
<polyline points="746,969 810,862.9 874.4,750.3 941.3,682.7 1006.5,676.4 1075.2,697.4" fill="none" stroke="#000" stroke-width="4" stroke-linejoin="round"/>
<rect x="739.1" y="962.1" width="13.8" height="13.8" fill="#fff" stroke="#000" stroke-width="2.2"/>
<rect x="803.1" y="856" width="13.8" height="13.8" fill="#fff" stroke="#000" stroke-width="2.2"/>
<rect x="867.5" y="743.4" width="13.8" height="13.8" fill="#fff" stroke="#000" stroke-width="2.2"/>
<rect x="934.4" y="675.8" width="13.8" height="13.8" fill="#fff" stroke="#000" stroke-width="2.2"/>
<rect x="999.6" y="669.5" width="13.8" height="13.8" fill="#fff" stroke="#000" stroke-width="2.2"/>
<rect x="1068.3" y="690.5" width="13.8" height="13.8" fill="#fff" stroke="#000" stroke-width="2.2"/>
<polyline points="746,987.3 810.2,925.6 874.9,861.8 943.6,849 1010,833.4 1075.2,798.8" fill="none" stroke="#000" stroke-width="4" stroke-linejoin="round"/>
<rect x="738" y="979.3" width="16" height="16" fill="#000"/>
<rect x="802.2" y="917.6" width="16" height="16" fill="#000"/>
<rect x="866.9" y="853.8" width="16" height="16" fill="#000"/>
<rect x="935.6" y="841" width="16" height="16" fill="#000"/>
<rect x="1002" y="825.4" width="16" height="16" fill="#000"/>
<rect x="1067.2" y="790.8" width="16" height="16" fill="#000"/>
<text x="932.23" y="638.4" font-size="45" style="stroke-width:0.6px">*</text>
<text x="998.23" y="629.3" font-size="45" style="stroke-width:0.6px">*</text>
<circle cx="981.2" cy="897.2" r="7.55" fill="#fff" stroke="#000" stroke-width="2"/>
<text transform="translate(998.02,906.2) scale(0.9550,1)" font-size="27.3" font-style="italic">Il18</text>
<text x="1041.24" y="897.4" font-size="15.2" font-style="italic">+/+</text>
<text x="1071.57" y="905.4" font-size="26.7">Cont</text>
<circle cx="981.2" cy="927.9" r="8.55" fill="#000"/>
<text transform="translate(998.02,937.7) scale(0.9550,1)" font-size="27.3" font-style="italic">Il18</text>
<text x="1041.24" y="928.9" font-size="15.2" font-style="italic">+/+</text>
<text x="1071.83" y="936.9" font-size="26.7">Stress</text>
<rect x="974.05" y="953.05" width="14.3" height="14.3" fill="#fff" stroke="#000" stroke-width="2"/>
<text transform="translate(999.22,969.8) scale(0.9550,1)" font-size="27.3" font-style="italic">Il18</text>
<text x="1041.79" y="961" font-size="15.2" font-style="italic">-/-</text>
<text x="1071.57" y="969" font-size="26.7">Cont</text>
<rect x="973.05" y="984.45" width="16.3" height="16.3" fill="#000"/>
<text transform="translate(999.22,1001.8) scale(0.9550,1)" font-size="27.3" font-style="italic">Il18</text>
<text x="1041.79" y="993" font-size="15.2" font-style="italic">-/-</text>
<text x="1071.83" y="1001" font-size="26.7">Stress</text>
<line x1="1271.4" y1="597.8" x2="1271.4" y2="1027.3" stroke="#000" stroke-width="3"/>
<line x1="1261.9" y1="1017.3" x2="1711.1" y2="1017.3" stroke="#000" stroke-width="2.8"/>
<line x1="1261.9" y1="615.4" x2="1271.4" y2="615.4" stroke="#000" stroke-width="2.6"/>
<text x="1213.84" y="626" font-size="31">30</text>
<line x1="1261.9" y1="680.8" x2="1271.4" y2="680.8" stroke="#000" stroke-width="2.6"/>
<text x="1213.84" y="690.7" font-size="31">25</text>
<line x1="1261.9" y1="748.1" x2="1271.4" y2="748.1" stroke="#000" stroke-width="2.6"/>
<text x="1213.84" y="758.7" font-size="31">20</text>
<line x1="1261.9" y1="815.3" x2="1271.4" y2="815.3" stroke="#000" stroke-width="2.6"/>
<text x="1213.84" y="825.7" font-size="31">15</text>
<line x1="1261.9" y1="882.6" x2="1271.4" y2="882.6" stroke="#000" stroke-width="2.6"/>
<text x="1213.84" y="892.5" font-size="31">10</text>
<line x1="1261.9" y1="950.2" x2="1271.4" y2="950.2" stroke="#000" stroke-width="2.6"/>
<text x="1221.88" y="959.2" font-size="31">5</text>
<text x="1227.58" y="1027.7" font-size="31">0</text>
<line x1="1343.8" y1="1017.3" x2="1343.8" y2="1027.3" stroke="#000" stroke-width="2.6"/>
<line x1="1417" y1="1017.3" x2="1417" y2="1027.3" stroke="#000" stroke-width="2.6"/>
<line x1="1490.2" y1="1017.3" x2="1490.2" y2="1027.3" stroke="#000" stroke-width="2.6"/>
<line x1="1563.1" y1="1017.3" x2="1563.1" y2="1027.3" stroke="#000" stroke-width="2.6"/>
<line x1="1636" y1="1017.3" x2="1636" y2="1027.3" stroke="#000" stroke-width="2.6"/>
<line x1="1709.8" y1="1017.3" x2="1709.8" y2="1027.3" stroke="#000" stroke-width="2.6"/>
<text x="1334.81" y="1063" font-size="31">1</text>
<text x="1408.32" y="1063" font-size="31">2</text>
<text x="1481.67" y="1063" font-size="31">3</text>
<text x="1554.57" y="1063" font-size="31">4</text>
<text x="1627.32" y="1063" font-size="31">5</text>
<text x="1229.07" y="590" font-size="27.2">(sec/min)</text>
<text x="1676.25" y="1060" font-size="27.5">(min)</text>
<text x="1480.56" y="1106.6" font-size="32">Time</text>
<text transform="translate(1199,911.52) rotate(-90)" font-size="31.3">Immobility time</text>
<line x1="1416.3" y1="708.4" x2="1416.3" y2="760" stroke="#000" stroke-width="1.7"/>
<line x1="1410.55" y1="708.4" x2="1422.05" y2="708.4" stroke="#4d4d4d" stroke-width="1.2"/>
<line x1="1410.55" y1="760" x2="1422.05" y2="760" stroke="#4d4d4d" stroke-width="1.2"/>
<line x1="1487.3" y1="588.6" x2="1487.3" y2="641" stroke="#000" stroke-width="1.7"/>
<line x1="1481.55" y1="588.6" x2="1493.05" y2="588.6" stroke="#4d4d4d" stroke-width="1.2"/>
<line x1="1481.55" y1="641" x2="1493.05" y2="641" stroke="#4d4d4d" stroke-width="1.2"/>
<line x1="1562.8" y1="610" x2="1562.8" y2="652.2" stroke="#000" stroke-width="1.7"/>
<line x1="1557.05" y1="610" x2="1568.55" y2="610" stroke="#4d4d4d" stroke-width="1.2"/>
<line x1="1557.05" y1="652.2" x2="1568.55" y2="652.2" stroke="#4d4d4d" stroke-width="1.2"/>
<line x1="1638.1" y1="600" x2="1638.1" y2="652.2" stroke="#000" stroke-width="1.7"/>
<line x1="1632.35" y1="600" x2="1643.85" y2="600" stroke="#4d4d4d" stroke-width="1.2"/>
<line x1="1632.35" y1="652.2" x2="1643.85" y2="652.2" stroke="#4d4d4d" stroke-width="1.2"/>
<line x1="1344.9" y1="968" x2="1344.9" y2="993.4" stroke="#000" stroke-width="1.7"/>
<line x1="1339.15" y1="968" x2="1350.65" y2="968" stroke="#4d4d4d" stroke-width="1.2"/>
<line x1="1339.15" y1="993.4" x2="1350.65" y2="993.4" stroke="#4d4d4d" stroke-width="1.2"/>
<line x1="1416.3" y1="758" x2="1416.3" y2="831.3" stroke="#000" stroke-width="1.7"/>
<line x1="1410.55" y1="758" x2="1422.05" y2="758" stroke="#4d4d4d" stroke-width="1.2"/>
<line x1="1410.55" y1="831.3" x2="1422.05" y2="831.3" stroke="#4d4d4d" stroke-width="1.2"/>
<line x1="1487.3" y1="592.4" x2="1487.3" y2="679.5" stroke="#000" stroke-width="1.7"/>
<line x1="1481.55" y1="592.4" x2="1493.05" y2="592.4" stroke="#4d4d4d" stroke-width="1.2"/>
<line x1="1481.55" y1="679.5" x2="1493.05" y2="679.5" stroke="#4d4d4d" stroke-width="1.2"/>
<line x1="1562.8" y1="564.5" x2="1562.8" y2="632" stroke="#000" stroke-width="1.7"/>
<line x1="1557.05" y1="564.5" x2="1568.55" y2="564.5" stroke="#4d4d4d" stroke-width="1.2"/>
<line x1="1557.05" y1="632" x2="1568.55" y2="632" stroke="#4d4d4d" stroke-width="1.2"/>
<line x1="1638.1" y1="559.4" x2="1638.1" y2="618" stroke="#000" stroke-width="1.7"/>
<line x1="1632.35" y1="559.4" x2="1643.85" y2="559.4" stroke="#4d4d4d" stroke-width="1.2"/>
<line x1="1632.35" y1="618" x2="1643.85" y2="618" stroke="#4d4d4d" stroke-width="1.2"/>
<line x1="1416.3" y1="714.7" x2="1416.3" y2="763.7" stroke="#000" stroke-width="1.7"/>
<line x1="1410.55" y1="714.7" x2="1422.05" y2="714.7" stroke="#4d4d4d" stroke-width="1.2"/>
<line x1="1410.55" y1="763.7" x2="1422.05" y2="763.7" stroke="#4d4d4d" stroke-width="1.2"/>
<line x1="1487.3" y1="640" x2="1487.3" y2="689.2" stroke="#000" stroke-width="1.7"/>
<line x1="1481.55" y1="640" x2="1493.05" y2="640" stroke="#4d4d4d" stroke-width="1.2"/>
<line x1="1481.55" y1="689.2" x2="1493.05" y2="689.2" stroke="#4d4d4d" stroke-width="1.2"/>
<line x1="1562.8" y1="652.2" x2="1562.8" y2="700.3" stroke="#000" stroke-width="1.7"/>
<line x1="1557.05" y1="652.2" x2="1568.55" y2="652.2" stroke="#4d4d4d" stroke-width="1.2"/>
<line x1="1557.05" y1="700.3" x2="1568.55" y2="700.3" stroke="#4d4d4d" stroke-width="1.2"/>
<line x1="1638.1" y1="625" x2="1638.1" y2="672.6" stroke="#000" stroke-width="1.7"/>
<line x1="1632.35" y1="625" x2="1643.85" y2="625" stroke="#4d4d4d" stroke-width="1.2"/>
<line x1="1632.35" y1="672.6" x2="1643.85" y2="672.6" stroke="#4d4d4d" stroke-width="1.2"/>
<line x1="1416.3" y1="846.8" x2="1416.3" y2="901.2" stroke="#000" stroke-width="1.7"/>
<line x1="1410.55" y1="846.8" x2="1422.05" y2="846.8" stroke="#4d4d4d" stroke-width="1.2"/>
<line x1="1410.55" y1="901.2" x2="1422.05" y2="901.2" stroke="#4d4d4d" stroke-width="1.2"/>
<line x1="1487.3" y1="603.2" x2="1487.3" y2="634" stroke="#000" stroke-width="1.7"/>
<line x1="1481.55" y1="603.2" x2="1493.05" y2="603.2" stroke="#4d4d4d" stroke-width="1.2"/>
<line x1="1481.55" y1="634" x2="1493.05" y2="634" stroke="#4d4d4d" stroke-width="1.2"/>
<line x1="1562.8" y1="590" x2="1562.8" y2="664.5" stroke="#000" stroke-width="1.7"/>
<line x1="1557.05" y1="590" x2="1568.55" y2="590" stroke="#4d4d4d" stroke-width="1.2"/>
<line x1="1557.05" y1="664.5" x2="1568.55" y2="664.5" stroke="#4d4d4d" stroke-width="1.2"/>
<line x1="1638.1" y1="610" x2="1638.1" y2="664.5" stroke="#000" stroke-width="1.7"/>
<line x1="1632.35" y1="610" x2="1643.85" y2="610" stroke="#4d4d4d" stroke-width="1.2"/>
<line x1="1632.35" y1="664.5" x2="1643.85" y2="664.5" stroke="#4d4d4d" stroke-width="1.2"/>
<polyline points="1344.4,969.5 1415.8,737" fill="none" stroke="#000" stroke-width="5.8" stroke-linejoin="round"/>
<polyline points="1344.9,970 1416.3,735 1487.3,615 1562.8,629.2 1638.1,620" fill="none" stroke="#000" stroke-width="4.2" stroke-linejoin="round"/>
<circle cx="1344.9" cy="970" r="7.3" fill="#fff" stroke="#000" stroke-width="2.2"/>
<circle cx="1416.3" cy="735" r="7.3" fill="#fff" stroke="#000" stroke-width="2.2"/>
<circle cx="1487.3" cy="615" r="7.3" fill="#fff" stroke="#000" stroke-width="2.2"/>
<circle cx="1562.8" cy="629.2" r="7.3" fill="#fff" stroke="#000" stroke-width="2.2"/>
<circle cx="1638.1" cy="620" r="7.3" fill="#fff" stroke="#000" stroke-width="2.2"/>
<polyline points="1344.9,980.9 1416.3,794.4 1487.3,641.5 1562.8,598.5 1638.1,589" fill="none" stroke="#000" stroke-width="4.2" stroke-linejoin="round"/>
<circle cx="1344.9" cy="980.9" r="8.4" fill="#000"/>
<circle cx="1416.3" cy="794.4" r="8.4" fill="#000"/>
<circle cx="1487.3" cy="641.5" r="8.4" fill="#000"/>
<circle cx="1562.8" cy="598.5" r="8.4" fill="#000"/>
<circle cx="1638.1" cy="589" r="8.4" fill="#000"/>
<polyline points="1344.9,969.3 1416.3,739.6 1487.3,661.4 1562.8,675.2 1638.1,640.6" fill="none" stroke="#000" stroke-width="4.2" stroke-linejoin="round"/>
<rect x="1338" y="962.4" width="13.8" height="13.8" fill="#fff" stroke="#000" stroke-width="2.2"/>
<rect x="1409.4" y="732.7" width="13.8" height="13.8" fill="#fff" stroke="#000" stroke-width="2.2"/>
<rect x="1480.4" y="654.5" width="13.8" height="13.8" fill="#fff" stroke="#000" stroke-width="2.2"/>
<rect x="1555.9" y="668.3" width="13.8" height="13.8" fill="#fff" stroke="#000" stroke-width="2.2"/>
<rect x="1631.2" y="633.7" width="13.8" height="13.8" fill="#fff" stroke="#000" stroke-width="2.2"/>
<polyline points="1344.9,974.6 1416.3,874.5 1487.3,618.8 1562.8,630.7 1638.1,628" fill="none" stroke="#000" stroke-width="4.2" stroke-linejoin="round"/>
<rect x="1336.9" y="966.6" width="16" height="16" fill="#000"/>
<rect x="1408.3" y="866.5" width="16" height="16" fill="#000"/>
<rect x="1479.3" y="610.8" width="16" height="16" fill="#000"/>
<rect x="1554.8" y="622.7" width="16" height="16" fill="#000"/>
<rect x="1630.1" y="620" width="16" height="16" fill="#000"/>
<text x="1407.02" y="705.5" font-size="45" style="stroke-width:0.6px">*</text>
<circle cx="1537.1" cy="888.3" r="7.55" fill="#fff" stroke="#000" stroke-width="2"/>
<text transform="translate(1556.92,898.7) scale(0.9550,1)" font-size="27.3" font-style="italic">Il18</text>
<text x="1600.14" y="889.9" font-size="15.2" font-style="italic">+/+</text>
<text x="1630.37" y="897.9" font-size="26.7">Cont</text>
<circle cx="1537.1" cy="919.6" r="8.55" fill="#000"/>
<text transform="translate(1556.92,930.1) scale(0.9550,1)" font-size="27.3" font-style="italic">Il18</text>
<text x="1600.14" y="921.3" font-size="15.2" font-style="italic">+/+</text>
<text x="1630.63" y="929.3" font-size="26.7">Stress</text>
<rect x="1529.95" y="944.85" width="14.3" height="14.3" fill="#fff" stroke="#000" stroke-width="2"/>
<text transform="translate(1558.12,962.3) scale(0.9550,1)" font-size="27.3" font-style="italic">Il18</text>
<text x="1600.69" y="953.5" font-size="15.2" font-style="italic">-/-</text>
<text x="1630.37" y="961.5" font-size="26.7">Cont</text>
<rect x="1528.95" y="975.95" width="16.3" height="16.3" fill="#000"/>
<text transform="translate(1558.12,994.2) scale(0.9550,1)" font-size="27.3" font-style="italic">Il18</text>
<text x="1600.69" y="985.4" font-size="15.2" font-style="italic">-/-</text>
<text x="1630.63" y="993.4" font-size="26.7">Stress</text>
</svg>
</body>
</html>
